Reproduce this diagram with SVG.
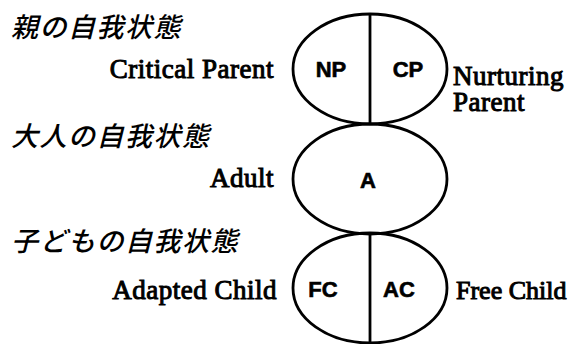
<svg xmlns="http://www.w3.org/2000/svg" width="580" height="344" viewBox="0 0 580 344">
<style>
.sh{fill:none;stroke:#000;stroke-width:2.8}
.jp{font-family:"Noto Sans CJK JP","Noto Sans CJK SC",sans-serif;font-size:27px;font-weight:500;font-style:italic;letter-spacing:1.5px;fill:#000}
.en{font-family:'Liberation Serif','Times New Roman',Times,serif;font-size:27px;letter-spacing:0.5px;fill:#000;stroke:#000;stroke-width:1px}
.in{font-family:'Liberation Sans',Arial,sans-serif;font-size:22px;font-weight:bold;fill:#000;stroke:#000;stroke-width:0.6px;text-anchor:middle}
</style>
<rect width="580" height="344" fill="#fff"/>
<text class="jp" x="11" y="37">親の自我状態</text>
<text class="jp" x="11" y="146">大人の自我状態</text>
<text class="jp" x="11" y="251">子どもの自我状態</text>
<g id="parent">
<ellipse class="sh" cx="370" cy="69" rx="77" ry="55"/>
<line class="sh" x1="370" y1="14" x2="370" y2="124"/>
<text class="in" x="331" y="77">NP</text>
<text class="in" x="408" y="77">CP</text>
</g>
<g id="adult">
<ellipse class="sh" cx="370" cy="179" rx="77" ry="55"/>
<text class="in" x="368" y="188">A</text>
</g>
<g id="child">
<ellipse class="sh" cx="370" cy="288" rx="77" ry="55"/>
<line class="sh" x1="370" y1="233" x2="370" y2="343"/>
<text class="in" x="323" y="297">FC</text>
<text class="in" x="399" y="297">AC</text>
</g>
<text class="en" x="274" y="78" text-anchor="end" font-family="Liberation Serif">Critical Parent</text>
<text class="en" x="453" y="85" font-family="Liberation Serif">Nurturing</text>
<text class="en" x="453" y="111" font-family="Liberation Serif">Parent</text>
<text class="en" x="274" y="187" text-anchor="end" font-family="Liberation Serif">Adult</text>
<text class="en" x="277" y="299" text-anchor="end" font-family="Liberation Serif">Adapted Child</text>
<text class="en" x="456" y="299" font-family="Liberation Serif" style="font-size:26px;letter-spacing:0">Free Child</text>
</svg>
